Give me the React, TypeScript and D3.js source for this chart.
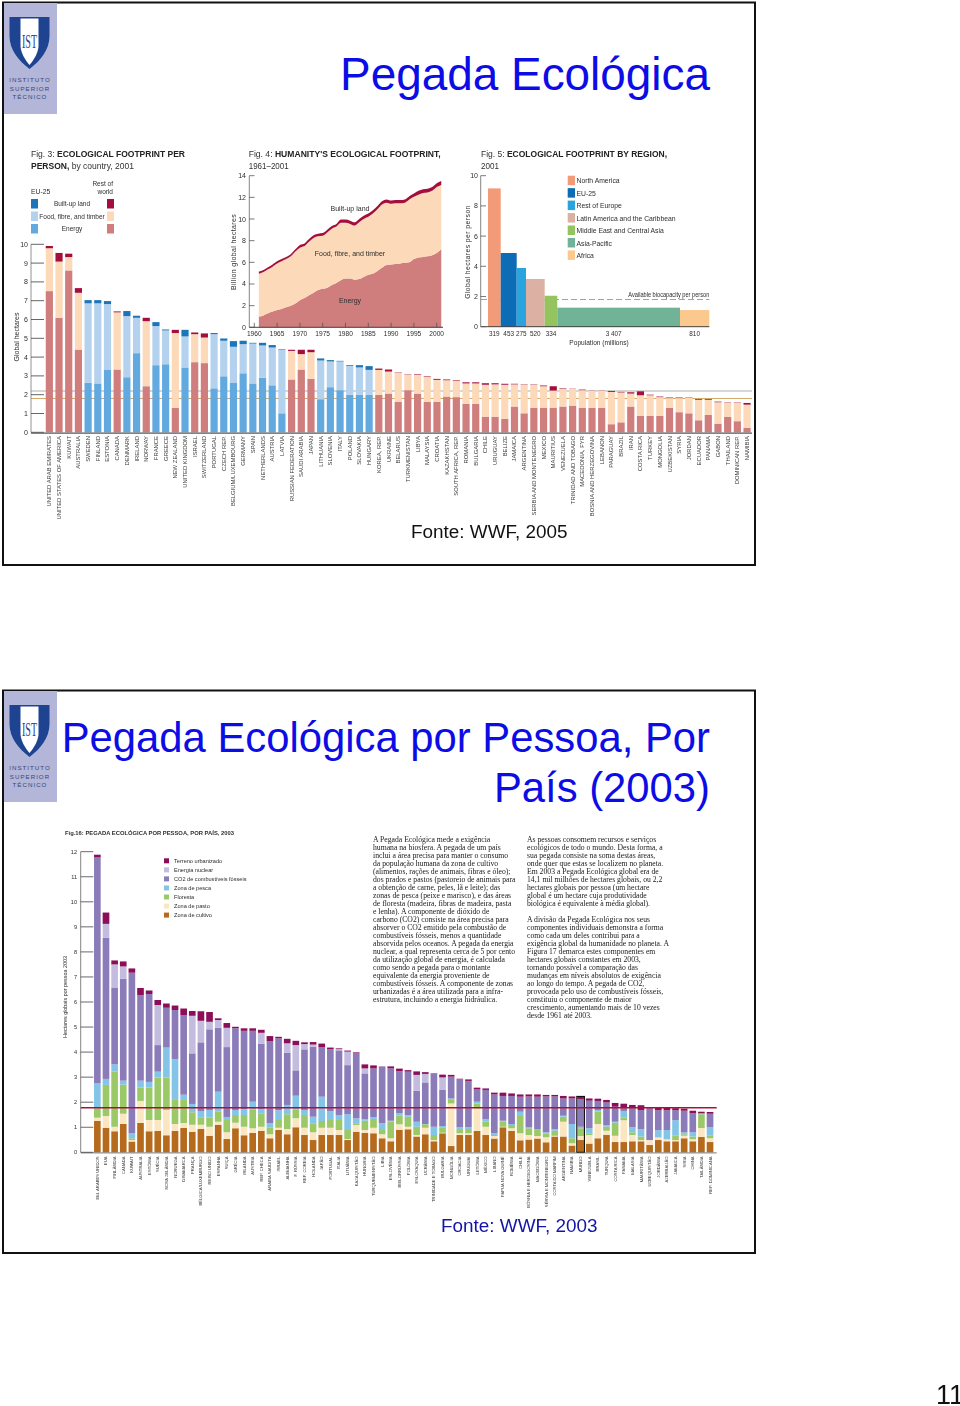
import React from 'react';
import * as d3 from 'd3';

const SANS = '"Liberation Sans", Arial, sans-serif';
const SERIF = '"Liberation Serif", "Times New Roman", serif';

// ---- Fig. 3 ----
const fig3Countries = ['UNITED ARAB EMIRATES','UNITED STATES OF AMERICA','KUWAIT','AUSTRALIA','SWEDEN','FINLAND','ESTONIA','CANADA','DENMARK','IRELAND','NORWAY','FRANCE','GREECE','NEW ZEALAND','UNITED KINGDOM','ISRAEL','SWITZERLAND','PORTUGAL','CZECH REP.','BELGIUM/LUXEMBOURG','GERMANY','SPAIN','NETHERLANDS','AUSTRIA','LATVIA','RUSSIAN FEDERATION','SAUDI ARABIA','JAPAN','LITHUANIA','SLOVENIA','ITALY','POLAND','SLOVAKIA','HUNGARY','KOREA, REP.','UKRAINE','BELARUS','TURKMENISTAN','LIBYA','MALAYSIA','CROATIA','KAZAKHSTAN','SOUTH AFRICA, REP.','ROMANIA','BULGARIA','CHILE','URUGUAY','BELIZE','JAMAICA','ARGENTINA','SERBIA AND MONTENEGRO','MEXICO','MAURITIUS','VENEZUELA','TRINIDAD AND TOBAGO','MACEDONIA, FYR','BOSNIA AND HERZEGOVINA','LEBANON','PARAGUAY','BRAZIL','IRAN','COSTA RICA','TURKEY','MONGOLIA','UZBEKISTAN','SYRIA','JORDAN','ECUADOR','PANAMA','GABON','THAILAND','DOMINICAN REP.','NAMIBIA'];
const fig3Eu25 = new Set(['SWEDEN','FINLAND','ESTONIA','DENMARK','IRELAND','FRANCE','GREECE','UNITED KINGDOM','PORTUGAL','CZECH REP.','BELGIUM/LUXEMBOURG','GERMANY','SPAIN','NETHERLANDS','AUSTRIA','LATVIA','LITHUANIA','SLOVENIA','ITALY','POLAND','SLOVAKIA','HUNGARY']);
const fig3Energy = [7.51,6.09,8.61,4.4,2.63,2.6,3.34,3.34,2.93,4.21,2.45,3.57,3.62,1.3,3.45,3.73,3.68,2.34,2.98,2.65,3.14,2.6,2.9,2.5,1.01,2.81,3.34,2.84,1.76,2.4,2.24,1.99,1.99,1.99,1.99,2.06,1.62,2.24,2.06,1.62,1.62,1.9,1.87,1.51,1.51,.83,.83,.71,1.37,1.01,1.31,1.31,1.31,1.37,1.42,1.31,1.3,1.31,.43,.53,1.37,.87,.87,.87,1.3,1.07,1.01,.64,.92,.46,.82,.59,.23];
const fig3FoodTop = [9.79,9.08,9.32,7.42,6.86,6.86,6.82,6.38,6.18,6.09,5.91,5.65,5.42,5.28,5.1,5.22,5.04,5.22,4.87,4.55,4.69,4.72,4.62,4.51,4.39,4.33,4.16,4.26,3.82,3.77,3.77,3.53,3.45,3.32,3.32,3.23,3.16,3.05,3.06,2.94,2.79,2.77,2.74,2.6,2.6,2.53,2.55,2.53,2.55,2.52,2.52,2.45,2.22,2.3,2.32,2.24,2.21,2.21,2.15,2.12,2.06,1.97,1.97,1.87,1.82,1.82,1.83,1.72,1.72,1.6,1.56,1.56,1.47];
const fig3Total = [9.91,9.54,9.5,7.67,7.03,7.03,6.98,6.43,6.45,6.2,6.09,5.86,5.47,5.45,5.45,5.31,5.26,5.28,4.99,4.85,4.87,4.76,4.76,4.64,4.42,4.39,4.39,4.39,3.93,3.84,3.8,3.57,3.57,3.52,3.39,3.34,3.18,3.07,3.09,2.97,2.84,2.81,2.77,2.66,2.66,2.61,2.61,2.58,2.58,2.54,2.54,2.49,2.45,2.33,2.33,2.27,2.22,2.22,2.2,2.15,2.13,2.18,2.0,1.9,1.85,1.85,1.85,1.76,1.76,1.63,1.58,1.58,1.56];
const fig3Ticks = [0,1,2,3,4,5,6,7,8,9,10];
const fig3RefLines = [2.2, 1.8];
const fig3Legend = ['Built-up land','Food, fibre, and timber','Energy'];
const euColors = ['#1b75b8','#b4d2ee','#62a9df'];
const restColors = ['#a5103e','#fcd9b9','#cf7d7d'];

// ---- Fig. 4 ----
const fig4Years = d3.range(1961, 2002);
const fig4Energy = [1.0,1.1,1.3,1.45,1.6,1.7,1.85,2.0,2.2,2.5,2.7,2.95,3.2,3.45,3.55,3.65,3.9,4.1,4.35,4.5,4.5,4.4,4.45,4.65,4.85,4.95,5.2,5.5,5.75,5.8,5.85,5.9,5.95,6.0,6.3,6.45,6.5,6.55,6.65,6.85,7.2];
const fig4Total = [5.15,5.3,5.55,5.8,6.1,6.3,6.5,6.75,7.2,7.6,7.75,8.15,8.5,8.65,8.7,9.0,9.35,9.55,9.95,9.95,9.85,9.7,10.0,10.3,10.5,10.8,11.2,11.65,11.8,11.7,11.75,11.75,11.8,12.1,12.35,12.6,12.75,12.8,12.95,13.3,13.5];
const fig4BuiltBand = [.2,.2,.2,.2,.2,.2,.2,.2,.2,.25,.25,.25,.25,.25,.25,.25,.25,.25,.3,.3,.3,.3,.3,.3,.3,.3,.3,.3,.3,.3,.3,.3,.3,.3,.3,.35,.35,.35,.35,.35,.35];
const fig4YTicks = [0,2,4,6,8,10,12,14];
const fig4XTicks = [1960,1965,1970,1975,1980,1985,1990,1995,2000];

// ---- Fig. 5 ----
const fig5Regions = ['North America','EU-25','Rest of Europe','Latin America and the Caribbean','Middle East and Central Asia','Asia-Pacific','Africa'];
const fig5Footprint = [9.16,4.88,3.89,3.16,2.05,1.26,1.1];
const fig5PopLabels = ['319','453','275','520','334','3 407','810'];
const fig5DrawnPop = [353,444,258,519,350,3407,814];
const fig5Colors = ['#f39b78','#0f6cb6','#2aa4df','#dcb0a2','#94c460','#70b396','#fbc88e'];
const fig5YTicks = [0,2,4,6,8,10];
const fig5Biocapacity = 1.8;

// ---- Fig. 16 ----
const fig16Countries = ['EM. ÁRABES UNIDOS','EUA','FINLÂNDIA','CANADÁ','KUWAIT','AUSTRÁLIA','ESTÓNIA','SUÉCIA','NOVA ZELÂNDIA','NORUEGA','DINAMARCA','FRANÇA','BÉLGICA/LUXEMBURGO','REINO UNIDO','ESPANHA','SUÍÇA','GRÉCIA','IRLANDA','ÁUSTRIA','REP. CHECA','ARÁBIA SAUDITA','ISRAEL','ALEMANHA','F. RÚSSIA','REP. COREIA','HOLANDA','JAPÃO','PORTUGAL','ITÁLIA','LITUÂNIA','KAZAQUISTÃO','HUNGRIA','TURQUEMENISTÃO','LÍBIA','ESLOVÉNIA','BIELORRÚSSIA','POLÓNIA','ESLOVÁQUIA','UCRÂNIA','TRINIDADE E TOBAGO','BULGÁRIA','MONGÓLIA','CROÁCIA','URUGUAI','LETÓNIA','MÉXICO','LÍBANO','PAPUA NOVA GUINÉ','ROMÉNIA','CHILE','BÓSNIA E HERZEGOVINA','MACEDÓNIA','SÉRVIA E MONTENEGRO','COSTA DO MARFIM','ARGENTINA','NAMÍBIA','MUNDO','VENEZUELA','BRASIL','TURQUIA','COSTA RICA','PANAMÁ','MALÁSIA','MAURITÂNIA','UZBEQUISTÃO','JORDÂNIA','AZERBAIJÃO','JAMAICA','SÍRIA','CHINA','TAILÂNDIA','REP. DOMINICANA'];
const cropTop = [1.25,.98,.84,1.13,.43,1.17,.84,.85,.68,.85,.97,.82,.93,.66,1.1,.53,.96,.68,.77,.86,.56,.89,.72,1.0,.69,.49,.69,.69,.69,.49,.82,.78,.76,.56,.44,.9,.92,.63,.72,.44,.76,.25,.69,.69,.85,.69,.55,1.0,.85,.48,.51,.55,.4,.63,.63,.27,.49,.35,.56,.69,.41,.41,.44,.44,.29,.49,.44,.44,.56,.44,.61,.41];
const grazeTop = [1.38,1.45,1.02,1.54,.49,2.05,1.29,1.29,1.69,1.13,1.17,1.1,1.1,1.02,1.22,.8,1.18,1.02,.96,1.02,.72,.98,.93,1.36,.98,.8,.98,.98,.89,.53,1.09,.89,.98,.72,.56,1.12,1.02,.69,.98,.49,.78,1.95,.76,.76,1.76,1.02,.65,1.02,.96,.76,.69,.65,.6,.66,1.22,.36,.65,.69,1.13,.86,.66,1.28,.69,.49,.49,.59,.52,.49,.66,.52,.97,.56];
const forestTop = [1.76,2.69,3.22,2.7,.56,2.58,2.58,2.99,2.99,2.09,2.09,1.6,1.4,1.38,1.62,1.29,1.49,1.49,1.72,1.56,.98,1.29,1.52,1.72,1.49,1.16,1.25,1.29,1.29,.89,1.16,1.26,1.33,.89,1.22,1.46,1.42,1.02,1.12,.69,1.0,2.09,.89,.93,1.95,1.22,.69,1.22,1.09,1.45,.96,.89,.76,.86,1.42,.56,.96,.76,1.62,1.02,1.18,1.38,.8,.63,.49,.6,.53,.66,.72,.63,1.52,.66];
const fishTop = [2.75,2.93,3.51,2.86,.76,2.86,2.81,3.22,4.18,3.72,2.3,1.93,1.65,1.69,2.42,1.41,1.69,1.72,2.02,1.72,1.16,1.68,1.89,2.26,1.69,1.42,2.22,1.65,1.49,1.52,1.36,1.32,1.4,1.16,1.26,1.56,1.49,1.22,1.13,1.02,1.05,2.15,1.0,1.0,2.02,1.32,.76,1.26,1.13,1.62,1.0,.93,.8,.92,1.46,1.13,1.02,.96,1.69,1.08,1.22,1.65,1.0,.92,.49,.88,.89,1.28,.8,.8,1.54,1.01];
const co2Top = [11.77,8.56,6.58,6.93,7.17,6.28,6.32,4.28,5.77,5.68,5.48,3.95,4.39,4.91,4.97,4.2,4.95,4.85,4.85,4.34,4.44,4.55,3.98,3.27,4.11,4.22,4.19,4.12,4.07,3.48,3.95,3.15,3.35,3.42,3.35,3.24,3.22,2.46,2.79,3.13,2.49,3.02,2.93,2.85,2.51,2.49,2.31,2.25,2.25,2.22,2.23,2.22,2.23,2.23,2.15,2.15,2.13,2.06,2.05,1.99,1.82,1.76,1.78,1.69,1.76,1.68,1.68,1.68,1.66,1.57,1.56,1.54];
const nuclearTop = [11.77,9.12,7.5,7.42,7.17,6.28,6.32,5.88,5.77,5.68,5.48,5.45,5.25,5.21,5.28,4.97,4.95,4.85,4.85,4.77,4.44,4.55,4.35,4.28,4.32,4.3,4.19,4.12,4.12,4.02,3.95,3.35,3.35,3.42,3.35,3.24,3.22,3.09,3.13,3.13,2.99,3.02,2.93,2.85,2.51,2.49,2.31,2.25,2.25,2.22,2.23,2.22,2.23,2.23,2.15,2.15,2.13,2.06,2.05,1.99,1.82,1.76,1.78,1.69,1.76,1.68,1.68,1.68,1.66,1.57,1.56,1.54];
const builtTop = [11.88,9.57,7.66,7.62,7.34,6.56,6.46,6.08,5.94,5.86,5.74,5.64,5.63,5.6,5.35,5.16,5.01,4.95,4.95,4.89,4.64,4.61,4.53,4.45,4.39,4.4,4.34,4.18,4.15,4.06,3.99,3.51,3.47,3.43,3.43,3.34,3.28,3.23,3.2,3.15,3.1,3.09,2.94,2.91,2.58,2.55,2.38,2.38,2.35,2.31,2.31,2.31,2.29,2.29,2.25,2.23,2.21,2.15,2.14,2.09,1.97,1.94,1.89,1.88,1.78,1.81,1.8,1.76,1.74,1.66,1.62,1.61];
const fig16Layers = [cropTop, grazeTop, forestTop, fishTop, co2Top, nuclearTop, builtTop];
const fig16Colors = ['#b66a1e','#fbe6c2','#9cc968','#84c5e7','#8b7cb9','#c4bcde','#8c0f58'];
const fig16Legend = ['Terreno urbanizado','Energia nuclear','CO2 de combustíveis fósseis','Zona de pesca','Floresta','Zona de pasto','Zona de cultivo'];
const fig16LegendColors = ['#8c0f58','#c4bcde','#8b7cb9','#84c5e7','#9cc968','#fbe6c2','#b66a1e'];
const fig16Ticks = [0,1,2,3,4,5,6,7,8,9,10,11,12];
const fig16World = 'MUNDO';
const fig16Biocapacity = 1.78;

const bodyLeft = ['A Pegada Ecológica mede a exigência','humana na biosfera. A pegada de um país','inclui a área precisa para manter o consumo','da população humana da zona de cultivo','(alimentos, rações de animais, fibras e óleo);','dos prados e pastos (pastoreio de animais para','a obtenção de carne, peles, lã e leite); das','zonas de pesca (peixe e marisco), e das áreas','de floresta (madeira, fibras de madeira, pasta','e lenha). A componente de dióxido de','carbono (CO2) consiste na área precisa para','absorver o CO2 emitido pela combustão de','combustíveis fósseis, menos a quantidade','absorvida pelos oceanos. A pegada da energia','nuclear, a qual representa cerca de 5 por cento','da utilização global de energia, é calculada','como sendo a pegada para o montante','equivalente da energia proveniente de','combustíveis fósseis. A componente de zonas','urbanizadas é a área utilizada para a infra-','estrutura, incluindo a energia hidráulica.'];
const bodyRight = ['As pessoas consomem recursos e serviços','ecológicos de todo o mundo. Desta forma, a','sua pegada consiste na soma destas áreas,','onde quer que estas se localizem no planeta.','Em 2003 a Pegada Ecológica global era de','14,1 mil milhões de hectares globais, ou 2,2','hectares globais por pessoa (um hectare','global é um hectare cuja produtividade','biológica é equivalente à média global).','','A divisão da Pegada Ecológica nos seus','componentes individuais demonstra a forma','como cada um deles contribui para a','exigência global da humanidade no planeta. A','Figura 17 demarca estes componentes em','hectares globais constantes em 2003,','tornando possível a comparação das','mudanças em níveis absolutos de exigência','ao longo do tempo. A pegada de CO2,','provocada pelo uso de combustíveis fósseis,','constituiu o componente de maior','crescimento, aumentando mais de 10 vezes','desde 1961 até 2003.'];

const INK = '#2e2e2e';

function Logo({ dy }: { dy: number }) {
  return (
    <g transform={`translate(0,${dy})`}>
      <rect x={4} y={3} width={53} height={111} fill="#b3b6d8" />
      <path d="M9.5,17 H49.5 V36 C49.5,50 40,61 29.5,69 C19,61 9.5,50 9.5,36 Z" fill="#1e4390" />
      <path d="M20.5,18.5 H38.5 V46 C38.5,52 34,60 29.5,65 C25,60 20.5,52 20.5,46 Z" fill="#ffffff" />
      <text x={29.5} y={48} textAnchor="middle" fontFamily={SERIF} fontSize={19} fill="#1e4390" textLength={15} lengthAdjust="spacingAndGlyphs">IST</text>
      {['INSTITUTO', 'SUPERIOR', 'TÉCNICO'].map((t, i) => (
        <text key={t} x={30} y={82 + i * 8.5} textAnchor="middle" fontFamily={SANS} fontSize={6.2} letterSpacing={1} fill="#39457a">{t}</text>
      ))}
    </g>
  );
}

function Frames() {
  return (
    <g>
      {[2.5, 690.5].map(y => (
        <rect key={y} x={3} y={y} width={752} height={562.5} fill="#ffffff" stroke="#111111" strokeWidth={2} />
      ))}
      <Logo dy={0} />
      <Logo dy={688} />
    </g>
  );
}

function FigTitle({ x, fig, bold, width, tail, tailX, line2 }: any) {
  return (
    <g fontFamily={SANS} fontSize={9.6} fill="#333333">
      <text x={x} y={157} textLength={width} lengthAdjust="spacingAndGlyphs">
        {fig} <tspan fontWeight="bold" fill="#222222">{bold}</tspan>
      </text>
      <text x={x} y={169} textLength={tailX} lengthAdjust="spacingAndGlyphs">
        {tail && <tspan fontWeight="bold" fill="#222222">{tail}</tspan>}{line2}
      </text>
    </g>
  );
}

function Fig3() {
  const x = d3.scaleBand<string>().domain(fig3Countries).range([44.5, 751.9]).paddingInner(0.26).paddingOuter(0.13);
  const y = d3.scaleLinear().domain([0, 10]).range([432.3, 244.3]);
  return (
    <g fontFamily={SANS} fill={INK}>
      <FigTitle x={31} fig="Fig. 3:" bold="ECOLOGICAL FOOTPRINT PER" width={154} tail="PERSON," line2=" by country, 2001" tailX={103} />
      <text x={31} y={193.5} fontSize={6.8}>EU-25</text>
      <text x={113} y={185.5} fontSize={6.5} textAnchor="end">Rest of</text>
      <text x={113} y={193.5} fontSize={6.5} textAnchor="end">world</text>
      {fig3Legend.map((t, i) => (
        <g key={t}>
          <rect x={31} y={199 + i * 12.5} width={7} height={9.5} fill={euColors[i]} />
          <rect x={107} y={199 + i * 12.5} width={7} height={9.5} fill={restColors[i]} />
          <text x={72} y={206 + i * 12.5} fontSize={6.5} textAnchor="middle">{t}</text>
        </g>
      ))}
      {fig3RefLines.map((v, i) => (
        <line key={v} x1={31} x2={752} y1={y(v)} y2={y(v)} stroke={i === 0 ? '#c9c9c4' : '#d3a868'} strokeWidth={i === 0 ? 1.6 : 1} />
      ))}
      {fig3Countries.map((c, i) => {
        const colors = fig3Eu25.has(c) ? euColors : restColors;
        const bx = x(c)!;
        const w = x.bandwidth();
        return (
          <g key={c}>
            <rect x={bx} width={w} y={y(fig3Energy[i])} height={y(0) - y(fig3Energy[i])} fill={colors[2]} />
            <rect x={bx} width={w} y={y(fig3FoodTop[i])} height={y(fig3Energy[i]) - y(fig3FoodTop[i])} fill={colors[1]} />
            <rect x={bx} width={w} y={y(fig3Total[i])} height={y(fig3FoodTop[i]) - y(fig3Total[i])} fill={colors[0]} />
            <text transform={`translate(${bx + w / 2 + 2},436) rotate(-90)`} textAnchor="end" fontSize={5.9} fill="#3a3a3a">{c}</text>
          </g>
        );
      })}
      <line x1={31} x2={31} y1={y(10)} y2={y(0)} stroke="#777777" strokeWidth={0.8} />
      <line x1={31} x2={752} y1={y(0) + 0.8} y2={y(0) + 0.8} stroke={INK} strokeWidth={1} />
      {fig3Ticks.map(t => (
        <g key={t}>
          <line x1={31} x2={44} y1={y(t)} y2={y(t)} stroke="#555555" strokeWidth={0.9} />
          <text x={28} y={y(t) + 2.5} fontSize={7} textAnchor="end">{t}</text>
        </g>
      ))}
      <text transform={`translate(19,337) rotate(-90)`} textAnchor="middle" fontSize={7}>Global hectares</text>
    </g>
  );
}

function Fig4() {
  const x = d3.scaleLinear().domain([1960, 2000]).range([254.3, 436.7]);
  const y = d3.scaleLinear().domain([0, 14]).range([327.3, 175.7]);
  const idx = fig4Years.map((_, i) => i);
  const band = (lo: (i: number) => number, hi: (i: number) => number) =>
    d3.area<number>().curve(d3.curveMonotoneX).x(i => x(fig4Years[i])).y0(i => y(lo(i))).y1(i => y(hi(i)))(idx)!;
  return (
    <g fontFamily={SANS} fill={INK}>
      <FigTitle x={248.7} fig="Fig. 4:" bold="HUMANITY'S ECOLOGICAL FOOTPRINT," width={192} line2="1961–2001" tailX={40} />
      <path d={band(() => 0, i => fig4Energy[i])} fill={restColors[2]} />
      <path d={band(i => fig4Energy[i], i => fig4Total[i] - fig4BuiltBand[i])} fill={restColors[1]} />
      <path d={band(i => fig4Total[i] - fig4BuiltBand[i], i => fig4Total[i])} fill={restColors[0]} />
      <line x1={249.3} x2={249.3} y1={y(14)} y2={y(0)} stroke="#666666" strokeWidth={0.8} />
      <line x1={249.3} x2={443} y1={y(0)} y2={y(0)} stroke={INK} strokeWidth={0.9} />
      {fig4YTicks.map(t => (
        <g key={t}>
          <line x1={249.3} x2={254.5} y1={y(t)} y2={y(t)} stroke="#555555" strokeWidth={0.8} />
          <text x={246} y={y(t) + 2.5} fontSize={7} textAnchor="end">{t}</text>
        </g>
      ))}
      {fig4XTicks.map(t => (
        <g key={t}>
          <line x1={x(t)} x2={x(t)} y1={y(0)} y2={y(0) - 4.5} stroke="#555555" strokeWidth={0.8} />
          <text x={x(t)} y={336} fontSize={6.6} textAnchor="middle">{t}</text>
        </g>
      ))}
      <text x={350} y={210.5} fontSize={7} textAnchor="middle">Built-up land</text>
      <text x={350} y={255.5} fontSize={7} textAnchor="middle">Food, fibre, and timber</text>
      <text x={350} y={303} fontSize={7} textAnchor="middle">Energy</text>
      <text transform="translate(236,252) rotate(-90)" textAnchor="middle" fontSize={7} letterSpacing={0.35}>Billion global hectares</text>
    </g>
  );
}

function Fig5() {
  const cum = d3.cumsum(fig5DrawnPop);
  const x = d3.scaleLinear().domain([0, cum[cum.length - 1]]).range([488, 709.3]);
  const y = d3.scaleLinear().domain([0, 10]).range([326.7, 175.7]);
  return (
    <g fontFamily={SANS} fill={INK}>
      <FigTitle x={481} fig="Fig. 5:" bold="ECOLOGICAL FOOTPRINT BY REGION," width={186} line2="2001" tailX={18} />
      <line x1={481} x2={709.3} y1={y(fig5Biocapacity)} y2={y(fig5Biocapacity)} stroke="#8c8a70" strokeWidth={0.8} strokeDasharray="6 3" />
      {fig5Regions.map((r, i) => {
        const x0 = i === 0 ? 0 : cum[i - 1];
        return (
          <g key={r}>
            <rect x={x(x0)} width={x(cum[i]) - x(x0)} y={y(fig5Footprint[i])} height={y(0) - y(fig5Footprint[i])} fill={fig5Colors[i]} />
            <text x={(x(x0) + x(cum[i])) / 2 + (i === 5 ? -5 : 0)} y={335.5} fontSize={6.4} textAnchor="middle">{fig5PopLabels[i]}</text>
            <rect x={567.7} y={175.7 + i * 12.45} width={7.3} height={9.5} fill={fig5Colors[i]} />
            <text x={576.5} y={183.4 + i * 12.45} fontSize={6.8}>{r}</text>
          </g>
        );
      })}
      <line x1={480.7} x2={480.7} y1={y(10)} y2={y(0)} stroke="#666666" strokeWidth={0.8} />
      <line x1={480.7} x2={709.3} y1={y(0)} y2={y(0)} stroke={INK} strokeWidth={0.9} />
      {fig5YTicks.map(t => (
        <g key={t}>
          <line x1={480.7} x2={486} y1={y(t)} y2={y(t)} stroke="#555555" strokeWidth={0.8} />
          <text x={478} y={y(t) + 2.5} fontSize={7} textAnchor="end">{t}</text>
        </g>
      ))}
      <text x={709.3} y={297} fontSize={6.6} textAnchor="end" textLength={81} lengthAdjust="spacingAndGlyphs">Available biocapacity per person</text>
      <text x={599} y={344.5} fontSize={6.6} textAnchor="middle">Population (millions)</text>
      <text transform="translate(470,252) rotate(-90)" textAnchor="middle" fontSize={6.8} letterSpacing={0.45}>Global hectares per person</text>
    </g>
  );
}

function Fig16() {
  const x = d3.scaleBand<string>().domain(fig16Countries).range([93, 714.4]).paddingInner(0.23).paddingOuter(0.12);
  const y = d3.scaleLinear().domain([0, 12]).range([1152.3, 851.7]);
  const world = fig16Countries.indexOf(fig16World);
  return (
    <g fontFamily={SANS} fill={INK}>
      <text x={65} y={835} fontSize={5.6} fontWeight="bold" textLength={169} lengthAdjust="spacingAndGlyphs">Fig.16: PEGADA ECOLÓGICA POR PESSOA, POR PAÍS, 2003</text>
      {fig16Countries.map((c, i) => (
        <g key={c}>
          {fig16Layers.map((tops, k) => {
            const lo = k === 0 ? 0 : fig16Layers[k - 1][i];
            return tops[i] > lo ? (
              <rect key={k} x={x(c)!} width={x.bandwidth()} y={y(tops[i])} height={y(lo) - y(tops[i])} fill={fig16Colors[k]} />
            ) : null;
          })}
          <text transform={`translate(${x(c)! + x.bandwidth() / 2 + 1.5},1156.5) rotate(-90)`} textAnchor="end" fontSize={4.2} fill="#333333">{c}</text>
        </g>
      ))}
      <rect x={x(fig16World)! - 0.5} width={x.bandwidth() + 1} y={y(builtTop[world]) - 0.5} height={y(0) - y(builtTop[world]) + 0.5} fill="none" stroke="#111111" strokeWidth={1.1} />
      <line x1={80.7} x2={716.7} y1={y(fig16Biocapacity)} y2={y(fig16Biocapacity)} stroke="#b0103c" strokeWidth={1.6} />
      <line x1={80.7} x2={80.7} y1={y(12)} y2={y(0)} stroke="#666666" strokeWidth={0.8} />
      <line x1={80.7} x2={716.7} y1={y(0) + 0.6} y2={y(0) + 0.6} stroke="#555555" strokeWidth={0.8} />
      {fig16Ticks.map(t => (
        <g key={t}>
          <line x1={80.7} x2={93.3} y1={y(t)} y2={y(t)} stroke="#444444" strokeWidth={0.8} />
          <text x={77} y={y(t) + 2} fontSize={5.6} textAnchor="end">{t}</text>
        </g>
      ))}
      {fig16Legend.map((t, i) => (
        <g key={t}>
          <rect x={164} y={858.3 + i * 9.05} width={5} height={5} fill={fig16LegendColors[i]} />
          <text x={174} y={862.6 + i * 9.05} fontSize={5.6}>{t}</text>
        </g>
      ))}
      <text transform="translate(67,997) rotate(-90)" textAnchor="middle" fontSize={5.4}>Hectares globais por pessoa 2003</text>
    </g>
  );
}

function Body() {
  return (
    <g fontFamily={SERIF} fontSize={7.7} fill="#1a1a1a">
      {bodyLeft.map((l, i) => <text key={i} x={373} y={841.5 + i * 8.03}>{l}</text>)}
      {bodyRight.map((l, i) => <text key={i} x={527} y={841.5 + i * 8.03}>{l}</text>)}
    </g>
  );
}

export default function App() {
  return (
    <svg width={960} height={1406} viewBox="0 0 960 1406" style={{ position: 'absolute', left: 0, top: 0, display: 'block', background: '#ffffff' }}>
      <defs>
        <filter id="soft" x="0" y="0" width="100%" height="100%">
          <feGaussianBlur stdDeviation="0.3" />
        </filter>
      </defs>
      <Frames />
      <text x={710} y={90} textAnchor="end" fontFamily={SANS} fontSize={45.9} fill="#0c0ce6">Pegada Ecológica</text>
      <text x={710} y={752} textAnchor="end" fontFamily={SANS} fontSize={41.8} fill="#0c0ce6">Pegada Ecológica por Pessoa, Por</text>
      <text x={710} y={802} textAnchor="end" fontFamily={SANS} fontSize={41.8} fill="#0c0ce6">País (2003)</text>
      <g filter="url(#soft)">
        <Fig3 />
        <Fig4 />
        <Fig5 />
        <Fig16 />
        <Body />
      </g>
      <text x={411} y={538} fontFamily={SANS} fontSize={18.9} fill="#111111">Fonte: WWF, 2005</text>
      <text x={441} y={1232} fontFamily={SANS} fontSize={18.9} fill="#1414a8">Fonte: WWF, 2003</text>
      <text x={936} y={1404} fontFamily={SANS} fontSize={27} fill="#111111">11</text>
    </svg>
  );
}
